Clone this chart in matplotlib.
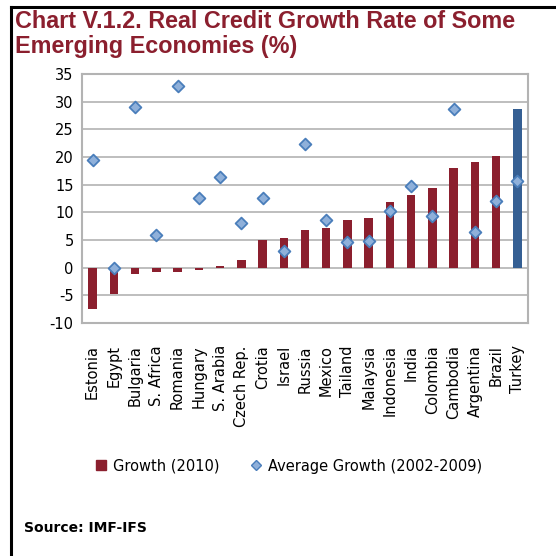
import numpy as np
import matplotlib.pyplot as plt
from matplotlib.lines import Line2D

plt.rcParams['axes.unicode_minus'] = False

# Real credit growth by country
countries = ["Estonia", "Egypt", "Bulgaria", "S. Africa", "Romania", "Hungary",
             "S. Arabia", "Czech Rep.", "Crotia", "Israel", "Russia", "Mexico",
             "Tailand", "Malaysia", "Indonesia", "India", "Colombia", "Cambodia",
             "Argentina", "Brazil", "Turkey"]
growth_2010 = [-7.5, -4.8, -1.1, -0.8, -0.8, -0.5, 0.3, 1.3, 5.0, 5.3, 6.8, 7.1,
               8.6, 8.9, 11.8, 13.2, 14.4, 18.0, 19.1, 20.1, 28.7]
avg_growth = [19.5, 0.0, 29.0, 5.9, 32.8, 12.6, 16.3, 8.0, 12.6, 3.0, 22.3, 8.7,
              4.7, 4.9, 10.3, 14.7, 9.3, 28.7, 6.4, 12.1, 15.7]

red = "#8B1F2E"
blue = "#355F93"
title_col = "#8B1F2E"
grid_col = "#B3B3B3"

fig = plt.figure(figsize=(5.56, 5.56), dpi=100)
ax = fig.add_axes([82/556, 1 - 323/556, (528-82)/556, (323-74)/556])

x = np.arange(len(countries))
colors = [red] * (len(countries) - 1) + [blue]
ax.bar(x, growth_2010, width=0.4, color=colors, zorder=2)
ax.scatter(x, avg_growth, marker="D", s=36, color="#8FB0DA",
           edgecolors="#4A7EBB", linewidths=1.3, zorder=3)

ax.set_xlim(-0.5, len(countries) - 0.5)
ax.set_ylim(-10, 35)
ax.set_yticks(range(-10, 36, 5))
ax.yaxis.grid(True, color=grid_col, linewidth=1.2, zorder=0)
ax.set_axisbelow(True)
for s in ax.spines.values():
    s.set_color(grid_col)
    s.set_linewidth(1.5)
ax.tick_params(axis="both", length=0, labelsize=10.5, colors="black")
ax.tick_params(axis="y", pad=6)
ax.set_xticks(x)
ax.set_xticklabels(countries, rotation=90, va="top", ha="center")
ax.tick_params(axis="x", pad=16)

# legend below the axis labels
handles = [Line2D([], [], marker="s", linestyle="none", markersize=7,
                  color=red),
           Line2D([], [], marker="D", linestyle="none", markersize=5,
                  markerfacecolor="#8FB0DA", markeredgecolor="#4A7EBB")]
fig.legend(handles, ["Growth (2010)", "Average Growth (2002-2009)"],
           loc="center", bbox_to_anchor=(288/556, 1 - 466/556), ncol=2,
           frameon=False, fontsize=10.5, handletextpad=0.3,
           columnspacing=2.0, handlelength=1.0)

title_font = dict(family="Liberation Sans", fontsize=16.8, fontweight="bold",
                  color=title_col, va="center")
fig.text(15/556, 1 - 22/556, "Chart V.1.2. Real Credit Growth Rate of Some",
         **title_font)
fig.text(15/556, 1 - 47/556, "Emerging Economies (%)", **title_font)
fig.text(24/556, 1 - 528/556, "Source: IMF-IFS", fontsize=10,
         fontweight="bold", va="center")

# frame lines on top and left
fig.add_artist(Line2D([11/556, 1], [1 - 7/556, 1 - 7/556], color="black",
                      linewidth=2.2))
fig.add_artist(Line2D([11/556, 11/556], [0, 1 - 7/556], color="black",
                      linewidth=2.2))

fig.savefig("out.png", dpi=100)
